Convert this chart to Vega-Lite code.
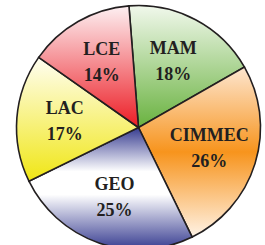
{
  "$schema": "https://vega.github.io/schema/vega-lite/v6.json",
  "autosize": {"type": "none"},
  "padding": {"left": 12, "top": 10, "right": 0, "bottom": 0},
  "width": 253,
  "height": 235,
  "background": "white",
  "config": {"view": {"stroke": null}},
  "data": {"values": [
    {"name": "MAM", "pct": "18%", "value": 18, "order": 1},
    {"name": "CIMMEC", "pct": "26%", "value": 26, "order": 2},
    {"name": "GEO", "pct": "25%", "value": 25, "order": 3},
    {"name": "LAC", "pct": "17%", "value": 17, "order": 4},
    {"name": "LCE", "pct": "14%", "value": 14, "order": 5}
  ]},
  "encoding": {
    "theta": {"field": "value", "type": "quantitative", "stack": true, "scale": {"range": [-0.0785, 6.2047]}},
    "order": {"field": "order", "type": "quantitative"}
  },
  "layer": [
    {
      "mark": {"type": "arc", "outerRadius": 122, "stroke": "#231f20", "strokeWidth": 1.6},
      "encoding": {
        "fill": {
          "condition": [
            {"test": "datum.name === 'MAM'", "value": {"gradient": "linear", "x1": 0, "y1": 0, "x2": 0, "y2": 1, "stops": [{"offset": 0, "color": "#f1f8ec"}, {"offset": 1, "color": "#69b23f"}]}},
            {"test": "datum.name === 'CIMMEC'", "value": {"gradient": "linear", "x1": 0, "y1": 0, "x2": 0, "y2": 1, "stops": [{"offset": 0, "color": "#fde6d0"}, {"offset": 0.5, "color": "#f7941d"}, {"offset": 1, "color": "#fff3e6"}]}},
            {"test": "datum.name === 'GEO'", "value": {"gradient": "linear", "x1": 0, "y1": 0, "x2": 0, "y2": 1, "stops": [{"offset": 0, "color": "#363b90"}, {"offset": 0.36, "color": "#ffffff"}, {"offset": 0.55, "color": "#ffffff"}, {"offset": 1, "color": "#363b90"}]}},
            {"test": "datum.name === 'LAC'", "value": {"gradient": "linear", "x1": 0, "y1": 0, "x2": 0, "y2": 1, "stops": [{"offset": 0, "color": "#fffef2"}, {"offset": 1, "color": "#f0e614"}]}},
            {"test": "datum.name === 'LCE'", "value": {"gradient": "linear", "x1": 0, "y1": 0, "x2": 0, "y2": 1, "stops": [{"offset": 0, "color": "#fdf0f2"}, {"offset": 1, "color": "#ec1c24"}]}}
          ],
          "value": "#cccccc"
        }
      }
    },
    {
      "mark": {"type": "text", "radius": 74, "dy": -13, "font": "Liberation Serif", "fontWeight": "bold", "fontSize": 18, "fill": "#231f20"},
      "encoding": {"text": {"field": "name", "type": "nominal"}}
    },
    {
      "mark": {"type": "text", "radius": 74, "dy": 13, "font": "Liberation Serif", "fontWeight": "bold", "fontSize": 18, "fill": "#231f20"},
      "encoding": {"text": {"field": "pct", "type": "nominal"}}
    }
  ]
}
